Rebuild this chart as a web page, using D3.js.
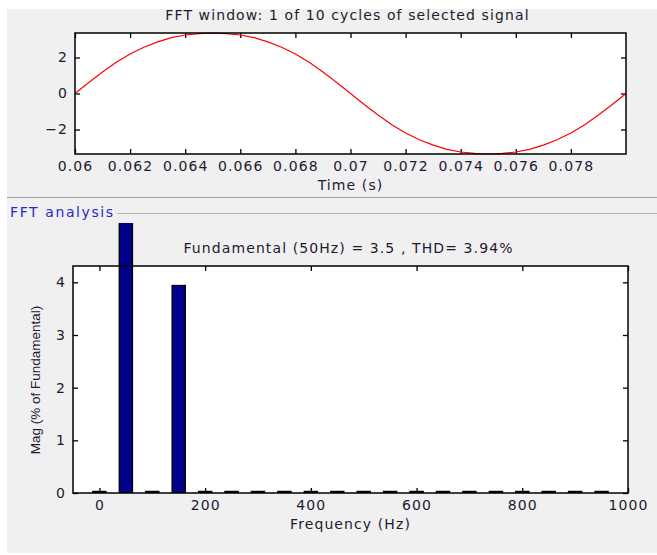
<!DOCTYPE html>
<html>
<head>
<meta charset="utf-8">
<script src="https://cdn.jsdelivr.net/npm/d3@7"></script>
<style>
  body { margin: 0; background: #fff; }
  svg { display: block; }
  text { font-family: "DejaVu Sans", sans-serif; font-size: 14px; letter-spacing: 1.1px; fill: #1e1a30; }
  .axis path { display: none; }
  .axis line { stroke: #000; stroke-width: 1.3; }
</style>
</head>
<body>
<div id="chart"></div>
<script>
// signal window, one point every 0.5 ms
var timeVals = [0.0600,0.0605,0.0610,0.0615,0.0620,0.0625,0.0630,0.0635,0.0640,0.0645,
                0.0650,0.0655,0.0660,0.0665,0.0670,0.0675,0.0680,0.0685,0.0690,0.0695,
                0.0700,0.0705,0.0710,0.0715,0.0720,0.0725,0.0730,0.0735,0.0740,0.0745,
                0.0750,0.0755,0.0760,0.0765,0.0770,0.0775,0.0780,0.0785,0.0790,0.0795,0.0800];
var signalVals = [0,0.61,1.19,1.73,2.19,2.57,2.87,3.10,3.25,3.33,
                  3.36,3.33,3.25,3.10,2.87,2.57,2.19,1.73,1.19,0.61,
                  0,-0.61,-1.19,-1.73,-2.19,-2.57,-2.87,-3.10,-3.25,-3.33,
                  -3.36,-3.33,-3.25,-3.10,-2.87,-2.57,-2.19,-1.73,-1.19,-0.61,0];
var timeTicks = [0.06,0.062,0.064,0.066,0.068,0.07,0.072,0.074,0.076,0.078];
var signalTicks = [-2,0,2];

// harmonic spectrum (% of fundamental)
var freqs = [0,50,100,150,200,250,300,350,400,450,500,550,600,650,700,750,800,850,900,950];
var mags  = [0.03,100,0.03,3.94,0.03,0.03,0.03,0.03,0.03,0.03,0.03,0.03,0.03,0.03,0.03,0.03,0.03,0.03,0.03,0.03];
var freqTicks = [0,200,400,600,800,1000];
var magTicks = [0,1,2,3,4];

var W = 657, H = 555;
var svg = d3.select("#chart").append("svg").attr("width", W).attr("height", H);

// gray figure panel
svg.append("rect").attr("x", 7).attr("y", 9).attr("width", W - 7).attr("height", 544).attr("fill", "#f0f0f0");

// ---------- top plot ----------
var tp = {l: 75, r: 626, t: 33, b: 154};
var xT = d3.scaleLinear().domain([0.06, 0.08]).range([tp.l, tp.r]);
var yT = d3.scaleLinear().domain([-3.36, 3.36]).range([tp.b, tp.t]);

svg.append("rect").attr("x", tp.l).attr("y", tp.t).attr("width", tp.r - tp.l).attr("height", tp.b - tp.t).attr("fill", "#fff");

svg.append("g").attr("class", "axis").attr("transform", "translate(0," + tp.b + ")")
   .call(d3.axisBottom(xT).tickValues(timeTicks).tickSizeInner(-5).tickSizeOuter(0).tickPadding(7).tickFormat(d3.format("")));
svg.append("g").attr("class", "axis").attr("transform", "translate(0," + tp.t + ")")
   .call(d3.axisTop(xT).tickValues(timeTicks).tickSizeInner(-5).tickSizeOuter(0).tickFormat(""));
svg.append("g").attr("class", "axis").attr("transform", "translate(" + tp.l + ",0)")
   .call(d3.axisLeft(yT).tickValues(signalTicks).tickSizeInner(-5).tickSizeOuter(0).tickPadding(7).tickFormat(d3.format("")));
svg.append("g").attr("class", "axis").attr("transform", "translate(" + tp.r + ",0)")
   .call(d3.axisRight(yT).tickValues(signalTicks).tickSizeInner(-5).tickSizeOuter(0).tickFormat(""));

var sigLine = d3.line()
    .x(function(d, i) { return xT(timeVals[i]); })
    .y(function(d) { return yT(d); });
svg.append("path").datum(signalVals).attr("d", sigLine)
   .attr("fill", "none").attr("stroke", "#ff0000").attr("stroke-width", 1.2);

svg.append("rect").attr("x", tp.l).attr("y", tp.t).attr("width", tp.r - tp.l).attr("height", tp.b - tp.t)
   .attr("fill", "none").attr("stroke", "#000").attr("stroke-width", 1.5);

svg.append("text").attr("x", (tp.l + tp.r) / 2 - 3).attr("y", 20).attr("text-anchor", "middle")
   .text("FFT window: 1 of 10 cycles of selected signal");
svg.append("text").attr("x", (tp.l + tp.r) / 2).attr("y", 190).attr("text-anchor", "middle")
   .text("Time (s)");

// separators + panel label
svg.append("line").attr("x1", 7).attr("x2", W).attr("y1", 197.5).attr("y2", 197.5).attr("stroke", "#a0a0a0");
svg.append("line").attr("x1", 117).attr("x2", W).attr("y1", 213.5).attr("y2", 213.5).attr("stroke", "#b4b4b4");
svg.append("text").attr("x", 10).attr("y", 217).style("fill", "#2828c8").style("letter-spacing", "1.6px").text("FFT analysis");

// ---------- bottom plot ----------
var bt = {l: 73, r: 628, t: 266, b: 493};
var xB = d3.scaleLinear().domain([-50, 1000]).range([bt.l, bt.r]);
var yB = d3.scaleLinear().domain([0, 4.31]).range([bt.b, bt.t]);

svg.append("rect").attr("x", bt.l).attr("y", bt.t).attr("width", bt.r - bt.l).attr("height", bt.b - bt.t).attr("fill", "#fff");

svg.append("g").attr("class", "axis").attr("transform", "translate(0," + bt.b + ")")
   .call(d3.axisBottom(xB).tickValues(freqTicks).tickSizeInner(-5).tickSizeOuter(0).tickPadding(7).tickFormat(d3.format("d")));
svg.append("g").attr("class", "axis").attr("transform", "translate(0," + bt.t + ")")
   .call(d3.axisTop(xB).tickValues(freqTicks).tickSizeInner(-5).tickSizeOuter(0).tickFormat(""));
svg.append("g").attr("class", "axis").attr("transform", "translate(" + bt.l + ",0)")
   .call(d3.axisLeft(yB).tickValues(magTicks).tickSizeInner(-5).tickSizeOuter(0).tickPadding(7).tickFormat(d3.format("d")));
svg.append("g").attr("class", "axis").attr("transform", "translate(" + bt.r + ",0)")
   .call(d3.axisRight(yB).tickValues(magTicks).tickSizeInner(-5).tickSizeOuter(0).tickFormat(""));

// the fundamental bar runs out of the axes, cut a bit above the box
svg.append("clipPath").attr("id", "barclip").append("rect")
   .attr("x", bt.l).attr("y", bt.t - 43).attr("width", bt.r - bt.l).attr("height", bt.b - bt.t + 43);

var bw = xB(25) - xB(0);
svg.append("g").attr("clip-path", "url(#barclip)")
   .selectAll("rect").data(freqs).enter().append("rect")
   .attr("x", function(d) { return xB(d) - bw / 2; })
   .attr("y", function(d, i) { return yB(mags[i]); })
   .attr("width", bw)
   .attr("height", function(d, i) { return bt.b - yB(mags[i]); })
   .attr("fill", "#00008b").attr("stroke", "#000").attr("stroke-width", 1.3);

svg.append("rect").attr("x", bt.l).attr("y", bt.t).attr("width", bt.r - bt.l).attr("height", bt.b - bt.t)
   .attr("fill", "none").attr("stroke", "#000").attr("stroke-width", 1.5);

svg.append("text").attr("x", (bt.l + bt.r) / 2 - 2).attr("y", 253).attr("text-anchor", "middle")
   .text("Fundamental (50Hz) = 3.5 , THD= 3.94%");
svg.append("text").attr("x", (bt.l + bt.r) / 2).attr("y", 529).attr("text-anchor", "middle")
   .text("Frequency (Hz)");
svg.append("text").attr("transform", "translate(40," + 380 + ") rotate(-90)")
   .attr("text-anchor", "middle").style("font-family", "'Liberation Sans', Arial, sans-serif")
   .style("font-size", "13.5px").style("letter-spacing", "0px")
   .text("Mag (% of Fundamental)");
</script>
</body>
</html>
